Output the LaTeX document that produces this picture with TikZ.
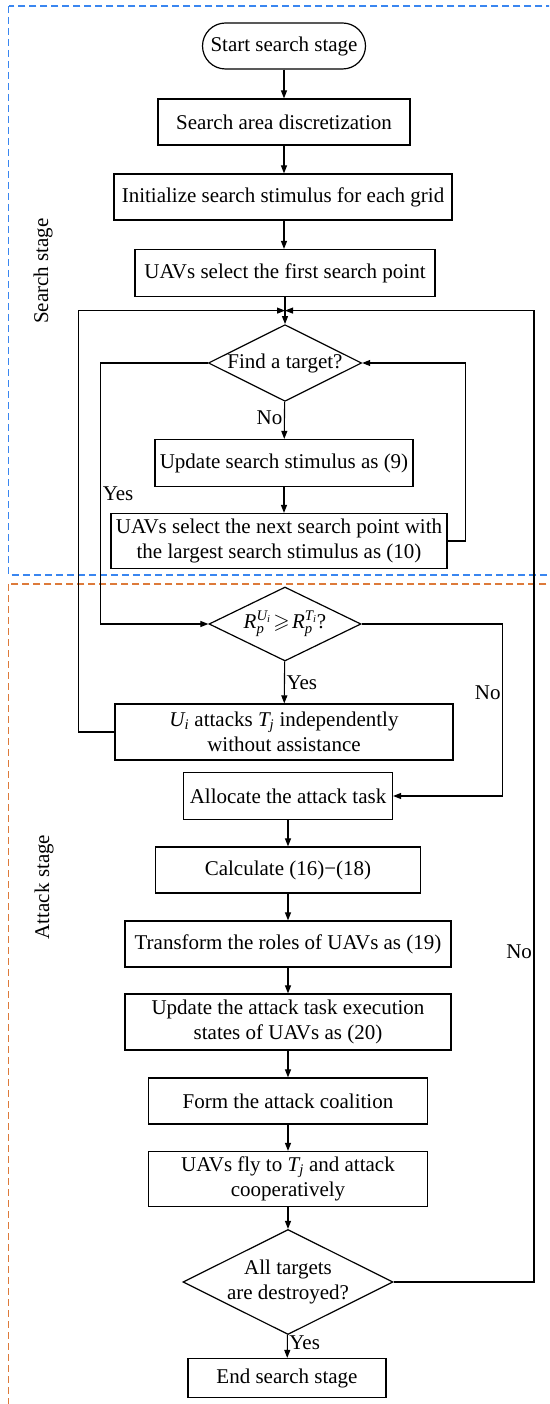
\documentclass[tikz,border=0pt]{standalone}
\usepackage{amsmath, amssymb}
\usepackage{fontspec}
\setmainfont{Liberation Serif}
\usepackage{tikz}
\usetikzlibrary{arrows.meta, positioning, calc, shapes.geometric}
\definecolor{searchblue}{HTML}{3A86F0}
\definecolor{attackorange}{HTML}{DD7A3A}
\newcommand{\iv}[1]{\textit{#1}}

\begin{document}
\begin{tikzpicture}[x=1pt, y=-1pt,
  flow/.style={draw=black, line width=1.1pt, -{Triangle[length=8pt, width=6pt]}},
  proc/.style={draw=black, line width=1.2pt, rectangle, inner sep=2pt, align=center,
               font=\fontsize{21}{25}\selectfont},
  terminal/.style={proc, rounded corners=23pt},
  decision/.style={draw=black, line width=1.2pt, diamond, aspect=2, inner sep=0pt,
                   align=center, font=\fontsize{21}{25}\selectfont},
  stage/.style={line width=1.2pt, dash pattern=on 7pt off 4pt},
  lbl/.style={font=\fontsize{21}{25}\selectfont, inner sep=1.5pt},
]
  \useasboundingbox (0,0) rectangle (549,1404);

  % Stage frames (cut by the page edge)
  \begin{scope}
    \clip (0,0) rectangle (549,1404);
    \draw[stage, searchblue] (8.75,6) rectangle (570,575);
    \draw[stage, attackorange] (8.75,584) rectangle (570,1430);
  \end{scope}
  \node[lbl, rotate=90] (searchlbl) at (43,271) {Search stage};
  \node[lbl, rotate=90] (attacklbl) at (44,887) {Attack stage};

  % Search stage
  \node[terminal, minimum width=163pt, minimum height=46pt] (start) at (284,46) {Start search stage};
  \node[proc, minimum width=252pt, minimum height=46pt] (discret) at (284,122) {Search area discretization};
  \node[proc, minimum width=338pt, minimum height=46pt] (init) at (283,197) {Initialize search stimulus for each grid};
  \node[proc, minimum width=300pt, minimum height=47pt] (first) at (285,273) {UAVs select the first search point};
  \node[decision, minimum width=152pt, minimum height=74pt] (find) at (285,363) {Find a target?};
  \node[proc, minimum width=258pt, minimum height=47pt] (update) at (284,463) {Update search stimulus as (9)};
  \node[proc, minimum width=336pt, minimum height=55pt, inner sep=0pt] (next) at (279,541)
    {UAVs select the next search point with\\the largest search stimulus as (10)};
  \coordinate (join) at ($(first.south)!0.5!(find.north)$);

  % Attack stage
  \node[decision, minimum width=152pt, minimum height=74pt] (cmp) at (285,624)
    {$\iv{R}_{\iv{p}}^{\iv{U}_{\iv{i}}}\!\geqslant\!\iv{R}_{\iv{p}}^{\iv{T}_{\iv{i}}}$?};
  \node[proc, minimum width=338pt, minimum height=56pt] (indep) at (284,732)
    {$\iv{U}_{\iv{i}}$ attacks $\iv{T}_{\iv{j}}$ independently\\without assistance};
  \node[proc, minimum width=209pt, minimum height=47pt] (alloc) at (288,796) {Allocate the attack task};
  \node[proc, minimum width=265pt, minimum height=46pt] (calc) at (288,870) {Calculate (16)\textminus(18)};
  \node[proc, minimum width=326pt, minimum height=46pt] (roles) at (288,944) {Transform the roles of UAVs as (19)};
  \node[proc, minimum width=326pt, minimum height=56pt] (states) at (288,1022)
    {Update the attack task execution\\states of UAVs as (20)};
  \node[proc, minimum width=279pt, minimum height=46pt] (coal) at (288,1101) {Form the attack coalition};
  \node[proc, minimum width=279pt, minimum height=55pt] (fly) at (288,1179)
    {UAVs fly to $\iv{T}_{\iv{j}}$ and attack\\cooperatively};
  \node[decision, minimum width=201pt, minimum height=98pt] (alltgt) at (288,1282)
    {All targets\\are destroyed?};
  \node[proc, minimum width=198pt, minimum height=39pt] (finish) at (287,1378) {End search stage};

  % Main chain
  \draw[flow] (start) -- (discret);
  \draw[flow] (discret.south) -- (discret.south |- init.north);
  \draw[flow] (discret.south |- init.south) -- (discret.south |- first.north);
  \draw[flow] (first) -- (find);
  \draw[flow] (find) -- node[lbl, left, pos=0.43] {No} (update);
  \draw[flow] (update.south) -- (update.south |- next.north);
  \draw[flow] (cmp) -- node[lbl, right, pos=0.5] {Yes} (indep);
  \draw[flow] (alloc) -- (calc);
  \draw[flow] (calc) -- (roles);
  \draw[flow] (roles) -- (states);
  \draw[flow] (states) -- (coal);
  \draw[flow] (coal) -- (fly);
  \draw[flow] (fly) -- (alltgt);
  \draw[flow] (alltgt) -- node[lbl, right, pos=0.35] {Yes} (finish);

  % Search loop
  \draw[flow] (next.east) -- ++(18,0) |- (find.east);
  \draw[flow] (find.west) -- ++(-107,0) |- node[lbl, right, pos=0.25] {Yes} (cmp.west);

  % Attack branches
  \draw[flow] (cmp.east) -- ++(141,0) |- node[lbl, left, pos=0.2] {No} (alloc.east);
  \draw[flow] (indep.west) -- ++(-36,0) |- (join);
  \draw[flow] (alltgt.east) -| node[lbl, left, pos=0.67] {No} ([xshift=249pt]join) -- (join);
\end{tikzpicture}
\end{document}
